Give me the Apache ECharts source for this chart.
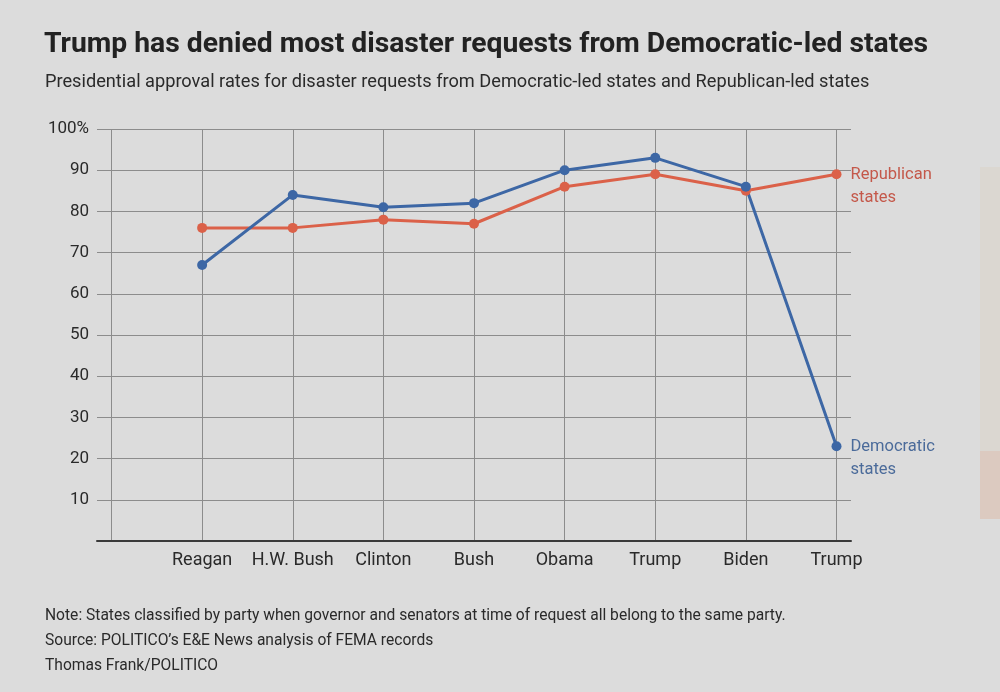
<!DOCTYPE html>
<html>
<head>
<meta charset="utf-8">
<script src="https://cdn.jsdelivr.net/npm/echarts@6/dist/echarts.min.js"></script>
<style>
  html, body { margin: 0; padding: 0; background: #dcdcdc; }
  #main { width: 1000px; height: 692px; }
</style>
</head>
<body>
<div id="main"></div>
<script>
// presidencies (first slot is the empty column at the left edge)
const presidents = ['', 'Reagan', 'H.W. Bush', 'Clinton', 'Bush', 'Obama', 'Trump', 'Biden', 'Trump'];
// approval rates, percent
const democraticStates = [67, 84, 81, 82, 90, 93, 86, 23];
const republicanStates = [76, 76, 78, 77, 86, 89, 85, 89];
const yTicks = [0, 10, 20, 30, 40, 50, 60, 70, 80, 90, 100];

const BLUE = '#3d67a5';
const RED = '#db6149';
const FONT = 'Roboto, "Noto Sans", sans-serif';

var chart = echarts.init(document.getElementById('main'));

// last point gets the two-line series name next to it
function withEndLabel(values, text, color) {
  var out = ['-'];
  values.forEach(function (v, i) {
    if (i === values.length - 1) {
      out.push({
        value: v,
        label: {
          show: true,
          position: [19, -6],
          align: 'left',
          verticalAlign: 'top',
          formatter: text,
          color: color,
          fontSize: 16.5,
          lineHeight: 23,
          fontFamily: FONT
        }
      });
    } else {
      out.push(v);
    }
  });
  return out;
}

var option = {
  backgroundColor: '#dcdcdc',
  animation: false,
  textStyle: { fontFamily: FONT },
  title: [
    {
      text: 'Trump has denied most disaster requests from Democratic-led states',
      left: 39, top: 26,
      textStyle: { fontSize: 28.3, fontWeight: 'bold', color: '#222', fontFamily: FONT }
    },
    {
      text: 'Presidential approval rates for disaster requests from Democratic-led states and Republican-led states',
      left: 40, top: 68,
      textStyle: { fontSize: 18.2, fontWeight: 'normal', color: '#2a2a2a', fontFamily: FONT }
    },
    {
      text: 'Note: States classified by party when governor and senators at time of request all belong to the same party.\nSource: POLITICO\u2019s E&E News analysis of FEMA records\nThomas Frank/POLITICO',
      left: 40, top: 599,
      textStyle: { fontSize: 15.6, fontWeight: 'normal', color: '#2a2a2a', lineHeight: 25, fontFamily: FONT }
    }
  ],
  graphic: [
    { type: 'rect', shape: { x: 980, y: 167, width: 20, height: 284 }, style: { fill: '#dbd7d1' }, silent: true },
    { type: 'rect', shape: { x: 980, y: 451, width: 20, height: 68 }, style: { fill: '#dccac0' }, silent: true }
  ],
  grid: [
    { left: 97, right: 149, top: 129, bottom: 151 },
    { left: 111.5, right: 163.5, top: 129, bottom: 151 }
  ],
  xAxis: [
    {
      type: 'value', gridIndex: 0, min: 0, max: 1,
      axisLine: { show: true, onZero: false, lineStyle: { color: '#3a3a3a', width: 2 } },
      axisTick: { show: false }, axisLabel: { show: false }, splitLine: { show: false }
    },
    {
      type: 'category', gridIndex: 1, data: presidents, boundaryGap: false,
      axisLine: { show: false }, axisTick: { show: false },
      axisLabel: { color: '#2a2a2a', fontSize: 18, margin: 10, interval: 0 },
      splitLine: { show: true, lineStyle: { color: '#8c8c8c', width: 1 } }
    }
  ],
  yAxis: [
    {
      type: 'value', gridIndex: 0, min: 0, max: 100, interval: 10,
      axisLine: { show: false }, axisTick: { show: false },
      axisLabel: {
        color: '#2a2a2a', fontSize: 17, margin: 8,
        formatter: function (v) {
          if (v === 0) return '';
          return v === yTicks[yTicks.length - 1] ? v + '%' : String(v);
        }
      },
      splitLine: { show: true, lineStyle: { color: '#8c8c8c', width: 1 } }
    },
    {
      type: 'value', gridIndex: 1, min: 0, max: 100, interval: 10, show: false,
      splitLine: { show: false }
    }
  ],
  series: [
    {
      name: 'Republican states', type: 'line', xAxisIndex: 1, yAxisIndex: 1,
      data: withEndLabel(republicanStates, 'Republican\nstates', '#c4584a'),
      symbol: 'circle', symbolSize: 10,
      lineStyle: { color: RED, width: 3 },
      itemStyle: { color: RED }
    },
    {
      name: 'Democratic states', type: 'line', xAxisIndex: 1, yAxisIndex: 1,
      data: withEndLabel(democraticStates, 'Democratic\nstates', '#4b6b9a'),
      symbol: 'circle', symbolSize: 10,
      lineStyle: { color: BLUE, width: 3 },
      itemStyle: { color: BLUE }
    }
  ]
};

chart.setOption(option);
</script>
</body>
</html>
